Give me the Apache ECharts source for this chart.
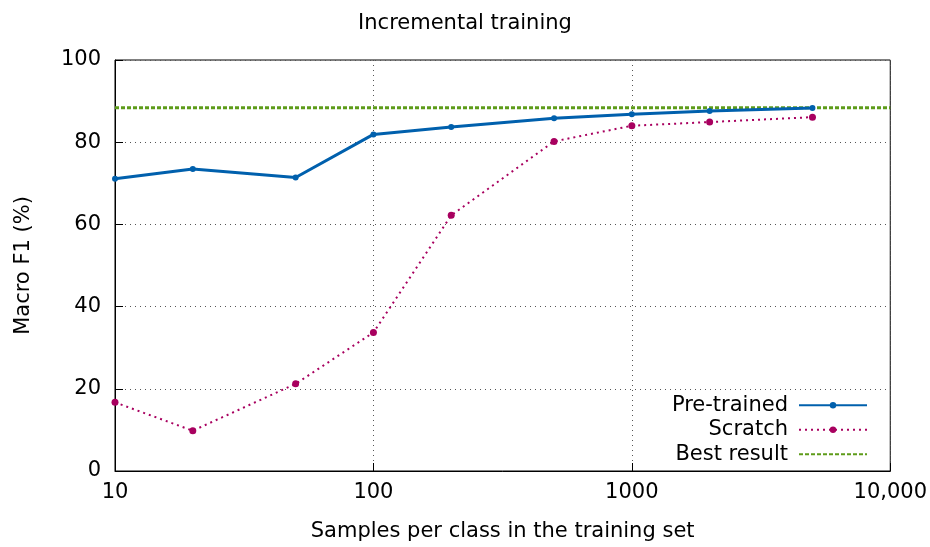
<!DOCTYPE html>
<html><head><meta charset="utf-8">
<script src="https://cdn.jsdelivr.net/npm/echarts@6/dist/echarts.min.js"></script>
<style>html,body{margin:0;padding:0;background:#fff}#c{width:930px;height:547px}</style>
</head><body><div id="c"></div>
<script>
const samples = [10, 20, 50, 100, 200, 500, 1000, 2000, 5000];
const pretrained = [71.1, 73.5, 71.4, 81.9, 83.7, 85.8, 86.8, 87.6, 88.3];
const scratch = [16.7, 9.8, 21.2, 33.7, 62.2, 80.2, 84.0, 84.9, 86.1];
const bestX = [10, 10000];
const bestValue = 88.4;
const xTicks = {10: '10', 100: '100', 1000: '1000', 10000: '10,000'};

const F = 'DejaVu Sans';
const chart = echarts.init(document.getElementById('c'));
chart.setOption({
  animation: false,
  backgroundColor: '#fff',
  title: {text: 'Incremental training', left: 'center', top: 8,
    textStyle: {fontFamily: F, fontSize: 21, fontWeight: 'normal', color: '#000'}},
  grid: {left: 115, right: 37, top: 60, bottom: 72, show: true, borderColor: '#000', borderWidth: 1},
  legend: {
    orient: 'vertical', right: 62, top: 393, align: 'right', itemGap: 0, padding: 0,
    itemWidth: 68, itemHeight: 8,
    textStyle: {fontFamily: F, fontSize: 21, color: '#000', lineHeight: 24.5, padding: [0, 6, 0, 0]},
    data: ['Pre-trained', 'Scratch', {name: 'Best result', itemStyle: {opacity: 0}}]
  },
  xAxis: {
    type: 'log', logBase: 10, min: 10, max: 10000,
    name: 'Samples per class in the training set', nameLocation: 'middle', nameGap: 50,
    nameTextStyle: {fontFamily: F, fontSize: 21, color: '#000'},
    axisLine: {lineStyle: {color: '#000'}},
    axisTick: {inside: true, length: 8, lineStyle: {color: '#000'}},
    axisLabel: {fontFamily: F, fontSize: 21, color: '#000', margin: 11,
      formatter: v => xTicks[Math.round(v)] || ''},
    splitLine: {show: true, lineStyle: {color: '#555', type: [1, 4], width: 1}},
    minorTick: {show: false}
  },
  yAxis: {
    type: 'value', min: 0, max: 100, interval: 20,
    name: 'Macro F1 (%)', nameLocation: 'middle', nameGap: 81,
    nameTextStyle: {fontFamily: F, fontSize: 21, color: '#000'},
    axisLine: {show: true, lineStyle: {color: '#000'}},
    axisTick: {inside: true, length: 8, lineStyle: {color: '#000'}},
    axisLabel: {fontFamily: F, fontSize: 21, color: '#000', margin: 14},
    splitLine: {show: true, lineStyle: {color: '#555', type: [1, 4], width: 1}}
  },
  series: [
    {name: 'Best result', type: 'line', data: bestX.map(x => [x, bestValue]),
      showSymbol: false, symbol: 'none', z: 1,
      lineStyle: {color: '#5e9c1a', width: 3, type: [4, 2]}, itemStyle: {color: '#5e9c1a'}},
    {name: 'Scratch', type: 'line', data: samples.map((x, i) => [x, scratch[i]]),
      symbol: 'circle', symbolSize: 7, z: 2,
      lineStyle: {color: '#a8005f', width: 2, type: [2, 4]}, itemStyle: {color: '#a8005f'}},
    {name: 'Pre-trained', type: 'line', data: samples.map((x, i) => [x, pretrained[i]]),
      symbol: 'circle', symbolSize: 6, z: 3,
      lineStyle: {color: '#0060ad', width: 3}, itemStyle: {color: '#0060ad'}}
  ]
});
</script></body></html>
